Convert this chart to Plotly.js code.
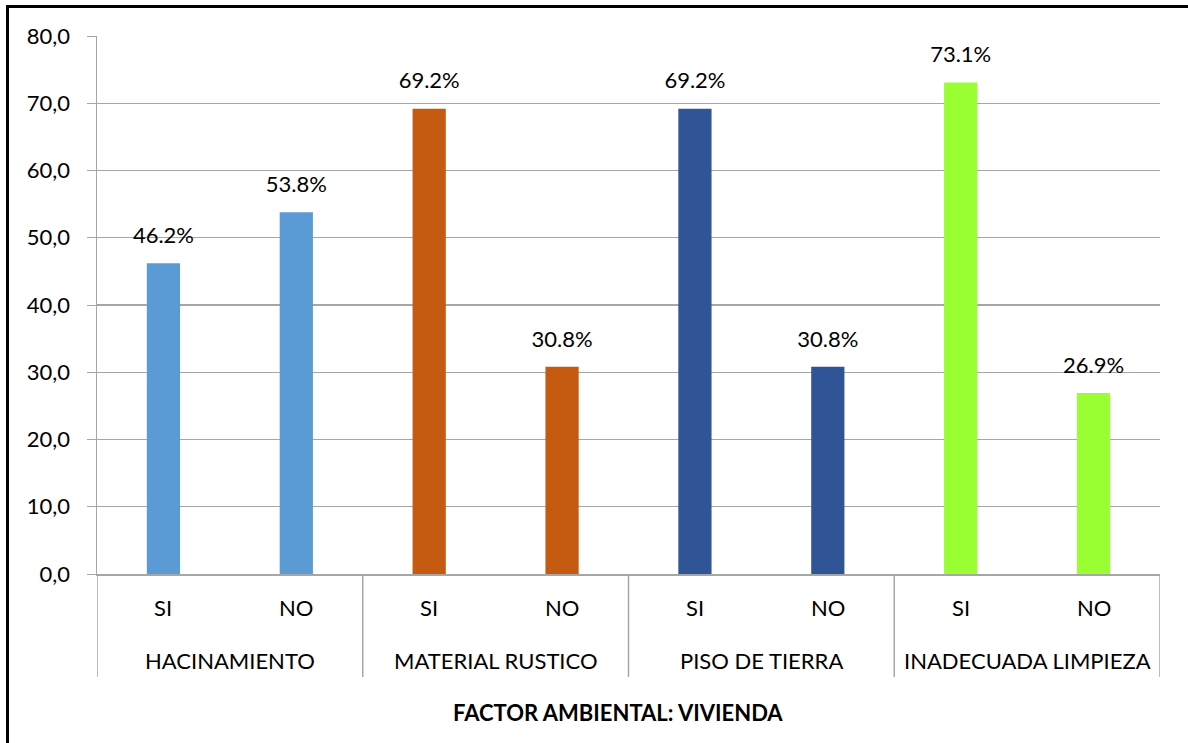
<!DOCTYPE html>
<html>
<head>
<meta charset="utf-8">
<script src="https://cdn.plot.ly/plotly-3.0.1.min.js"></script>
<style>
html,body{margin:0;padding:0;background:#fff;}
#chart{width:1188px;height:743px;position:relative;}
#frame{position:absolute;left:6px;top:5px;width:1200px;height:800px;border-left:3px solid #000;border-top:3px solid #000;pointer-events:none;}
</style>
</head>
<body>
<div id="chart"></div>
<div id="frame"></div>
<script>
const groups = ["HACINAMIENTO", "MATERIAL RUSTICO", "PISO DE TIERRA", "INADECUADA LIMPIEZA"];
const answers = ["SI", "NO"];
const values = [
  [46.2, 53.8],
  [69.2, 30.8],
  [69.2, 30.8],
  [73.1, 26.9]
];
const colors = ["#5B9BD5", "#C55A11", "#2F5597", "#99FF33"];
const xTitle = "FACTOR AMBIENTAL: VIVIENDA";

const xg = [], xs = [], ys = [], cs = [], txt = [];
groups.forEach((g, i) => {
  answers.forEach((a, j) => {
    xg.push(g); xs.push(a); ys.push(values[i][j]); cs.push(colors[i]);
    txt.push(values[i][j].toFixed(1) + "%");
  });
});

const font = "Lato, 'Open Sans', sans-serif";
const gray = "#a6a6a6";
const plotH = 743 - 36 - 169;
const py = px => -px / plotH; // pixels below the x axis -> paper y

const traces = [
  {
    type: "bar",
    x: [xg, xs],
    y: ys,
    marker: {color: cs},
    hoverinfo: "none",
    showlegend: false
  },
  {
    type: "scatter",
    mode: "markers+text",
    x: [xg, xs],
    y: ys,
    text: txt,
    textposition: "top center",
    textfont: {family: font, size: 22, color: "#000"},
    marker: {size: 22, opacity: 0},
    hoverinfo: "none",
    showlegend: false
  }
];

const annotations = [];
const shapes = [];
const n = xs.length;
for (let k = 0; k < n; k++) {
  annotations.push({
    x: k, xref: "x", y: py(33), yref: "paper",
    text: xs[k], showarrow: false, xanchor: "center", yanchor: "middle",
    font: {family: font, size: 22, color: "#000"}
  });
}
groups.forEach((g, i) => {
  annotations.push({
    x: i * answers.length + (answers.length - 1) / 2, xref: "x", y: py(86), yref: "paper",
    text: g, showarrow: false, xanchor: "center", yanchor: "middle",
    font: {family: font, size: 22, color: "#000"}
  });
});
for (let i = 0; i <= groups.length; i++) {
  const xv = i * answers.length - 0.5;
  shapes.push({
    type: "line", xref: "x", yref: "paper",
    x0: xv, x1: xv, y0: 0, y1: py(103),
    line: {color: gray, width: 1.5}
  });
}
annotations.push({
  x: 0.49, xref: "paper", y: py(138), yref: "paper",
  text: "<b>" + xTitle + "</b>", showarrow: false, xanchor: "center", yanchor: "middle",
  font: {family: font, size: 22, color: "#000"}
});

const layout = {
  width: 1188,
  height: 743,
  margin: {l: 97, r: 28, t: 36, b: 169},
  paper_bgcolor: "#fff",
  plot_bgcolor: "#fff",
  bargap: 0.75,
  separators: ",.",
  font: {family: font, size: 22, color: "#000"},
  annotations: annotations,
  shapes: shapes,
  xaxis: {
    type: "multicategory",
    range: [-0.5, n - 0.5],
    autorange: false,
    showgrid: false,
    showline: true,
    linecolor: gray,
    linewidth: 1.5,
    showticklabels: false,
    showdividers: false,
    ticks: ""
  },
  yaxis: {
    range: [0, 80],
    dtick: 10,
    tickformat: ".1f",
    showgrid: true,
    gridcolor: gray,
    gridwidth: 1.2,
    showline: true,
    linecolor: gray,
    linewidth: 1.5,
    ticks: "outside",
    ticklen: 9,
    tickcolor: gray,
    ticklabelstandoff: 12,
    tickfont: {family: font, size: 22, color: "#000"},
    zeroline: false
  }
};

Plotly.newPlot("chart", traces, layout, {displayModeBar: false, staticPlot: true});
</script>
</body>
</html>
